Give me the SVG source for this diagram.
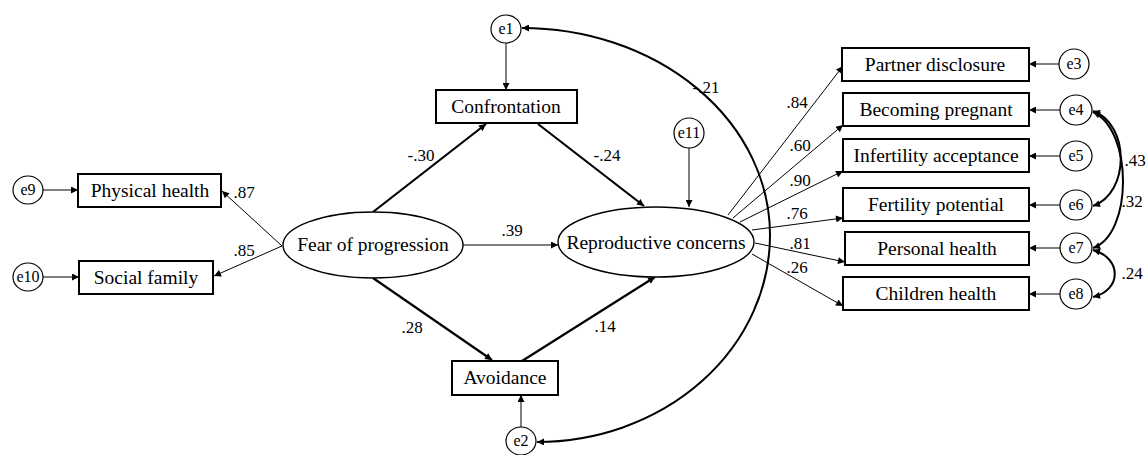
<svg xmlns="http://www.w3.org/2000/svg" width="1148" height="455" viewBox="0 0 1148 455">
<defs>
<marker id="ah" viewBox="0 0 10 10" refX="10" refY="5" markerUnits="userSpaceOnUse" markerWidth="9" markerHeight="7" orient="auto-start-reverse">
<path d="M0,0 L10,5 L0,10 z" fill="#000"/>
</marker>
<style>
.box{fill:#fff;stroke:#000;stroke-width:2}
.lat{fill:#fff;stroke:#000;stroke-width:1.4}
.err{fill:#fff;stroke:#000;stroke-width:1.2}
.t{font-family:"Liberation Serif","Times New Roman",serif;font-size:19.5px;text-anchor:middle;fill:#000}
.te{font-family:"Liberation Serif","Times New Roman",serif;font-size:16px;text-anchor:middle;fill:#000}
.lb{font-family:"Liberation Serif","Times New Roman",serif;font-size:17px;text-anchor:middle;fill:#000}
.thin{stroke:#000;stroke-width:1;fill:none;marker-end:url(#ah)}
.thick{stroke:#000;stroke-width:2.2;fill:none;marker-end:url(#ah)}
.cov{stroke:#000;stroke-width:2;fill:none;marker-start:url(#ah);marker-end:url(#ah)}
</style>
</defs>
<rect width="1148" height="455" fill="#fff"/>

<g id="connectors">
<line class="thin" x1="43" y1="190" x2="78" y2="190"/>
<line class="thin" x1="43" y1="277" x2="79" y2="277"/>
<line class="thin" x1="282" y1="246" x2="222" y2="191"/>
<line class="thin" x1="282" y1="246" x2="214" y2="276"/>
<line class="thin" x1="506" y1="43" x2="506" y2="90"/>
<line class="thick" x1="373" y1="212" x2="486" y2="124"/>
<line class="thick" x1="538" y1="124" x2="644" y2="206"/>
<line class="thin" x1="463" y1="245" x2="558" y2="245"/>
<line class="thick" x1="373" y1="278" x2="492" y2="360"/>
<line class="thick" x1="522" y1="361" x2="655" y2="277"/>
<line class="thin" x1="521" y1="427" x2="521" y2="395"/>
<line class="thin" x1="689" y1="148" x2="689" y2="207"/>
<line class="thin" x1="728" y1="215" x2="843" y2="66"/>
<line class="thin" x1="733" y1="218" x2="843" y2="125"/>
<line class="thin" x1="740" y1="222" x2="843" y2="171"/>
<line class="thin" x1="752" y1="230" x2="843" y2="218"/>
<line class="thin" x1="755" y1="243" x2="845" y2="262"/>
<line class="thin" x1="752" y1="254" x2="843" y2="306"/>
<line class="thin" x1="1059" y1="64" x2="1029" y2="64"/>
<line class="thin" x1="1060" y1="110" x2="1029" y2="110"/>
<line class="thin" x1="1060" y1="156" x2="1029" y2="156"/>
<line class="thin" x1="1060" y1="205" x2="1029" y2="205"/>
<line class="thin" x1="1060" y1="248" x2="1029" y2="248"/>
<line class="thin" x1="1060" y1="294" x2="1029" y2="294"/>
<path class="cov" d="M 522 28 A 248 207 0 0 1 770 235 A 233 207 0 0 1 537 442"/>
<path class="cov" d="M 1093 111 C 1130 124, 1130 193, 1093 206"/>
<path class="cov" d="M 1093 112 C 1133 130, 1133 234, 1093 248"/>
<path class="cov" d="M 1093 250 C 1122 258, 1122 290, 1093 297"/>
</g>

<g id="labels">
<text class="lb" x="244" y="198">.87</text>
<text class="lb" x="244" y="256">.85</text>
<text class="lb" x="421" y="161">-.30</text>
<text class="lb" x="607" y="161">-.24</text>
<text class="lb" x="512" y="236">.39</text>
<text class="lb" x="412" y="333">.28</text>
<text class="lb" x="605" y="332">.14</text>
<text class="lb" x="706" y="93">-.21</text>
<text class="lb" x="797" y="108">.84</text>
<text class="lb" x="800" y="151">.60</text>
<text class="lb" x="800" y="186">.90</text>
<text class="lb" x="797" y="219">.76</text>
<text class="lb" x="800" y="249">.81</text>
<text class="lb" x="797" y="273">.26</text>
<text class="lb" x="1135" y="166">.43</text>
<text class="lb" x="1132" y="207">.32</text>
<text class="lb" x="1132" y="279">.24</text>
</g>

<g id="e9"><ellipse class="err" cx="28" cy="190" rx="15" ry="14"/><text class="te" x="28" y="195">e9</text></g>
<g id="e10"><ellipse class="err" cx="28" cy="277" rx="15" ry="14"/><text class="te" x="28" y="282">e10</text></g>
<g id="physical-health"><rect class="box" x="78" y="174" width="143" height="33"/><text class="t" x="150" y="197">Physical health</text></g>
<g id="social-family"><rect class="box" x="79" y="261" width="134" height="33"/><text class="t" x="146" y="284">Social family</text></g>
<g id="fear"><ellipse class="lat" cx="373" cy="245" rx="90" ry="33"/><text class="t" x="373" y="251">Fear of progression</text></g>
<g id="e1"><ellipse class="err" cx="506" cy="29" rx="15" ry="14"/><text class="te" x="506" y="34">e1</text></g>
<g id="confrontation"><rect class="box" x="436" y="90" width="141" height="33"/><text class="t" x="506" y="113">Confrontation</text></g>
<g id="avoidance"><rect class="box" x="452" y="361" width="106" height="34"/><text class="t" x="505" y="384">Avoidance</text></g>
<g id="e2"><ellipse class="err" cx="521" cy="441" rx="15" ry="14"/><text class="te" x="521" y="446">e2</text></g>
<g id="e11"><ellipse class="err" cx="689" cy="133" rx="15" ry="15"/><text class="te" x="689" y="138">e11</text></g>
<g id="reproductive"><ellipse class="lat" cx="656" cy="242" rx="98" ry="35"/><text class="t" x="656" y="249">Reproductive concerns</text></g>
<g id="partner-disclosure"><rect class="box" x="842" y="48" width="187" height="33"/><text class="t" x="935" y="71">Partner disclosure</text></g>
<g id="becoming-pregnant"><rect class="box" x="843" y="93" width="186" height="33"/><text class="t" x="936" y="116">Becoming pregnant</text></g>
<g id="infertility-acceptance"><rect class="box" x="843" y="139" width="186" height="33"/><text class="t" x="936" y="162">Infertility acceptance</text></g>
<g id="fertility-potential"><rect class="box" x="843" y="188" width="186" height="33"/><text class="t" x="936" y="211">Fertility potential</text></g>
<g id="personal-health"><rect class="box" x="845" y="232" width="184" height="33"/><text class="t" x="937" y="255">Personal health</text></g>
<g id="children-health"><rect class="box" x="843" y="277" width="186" height="33"/><text class="t" x="936" y="300">Children health</text></g>
<g id="e3"><ellipse class="err" cx="1074" cy="64" rx="15" ry="15"/><text class="te" x="1074" y="69">e3</text></g>
<g id="e4"><ellipse class="err" cx="1076" cy="110" rx="16" ry="15"/><text class="te" x="1076" y="115">e4</text></g>
<g id="e5"><ellipse class="err" cx="1076" cy="156" rx="16" ry="15"/><text class="te" x="1076" y="161">e5</text></g>
<g id="e6"><ellipse class="err" cx="1076" cy="205" rx="16" ry="15"/><text class="te" x="1076" y="210">e6</text></g>
<g id="e7"><ellipse class="err" cx="1076" cy="248" rx="16" ry="15"/><text class="te" x="1076" y="253">e7</text></g>
<g id="e8"><ellipse class="err" cx="1076" cy="294" rx="16" ry="15"/><text class="te" x="1076" y="299">e8</text></g>
</svg>
